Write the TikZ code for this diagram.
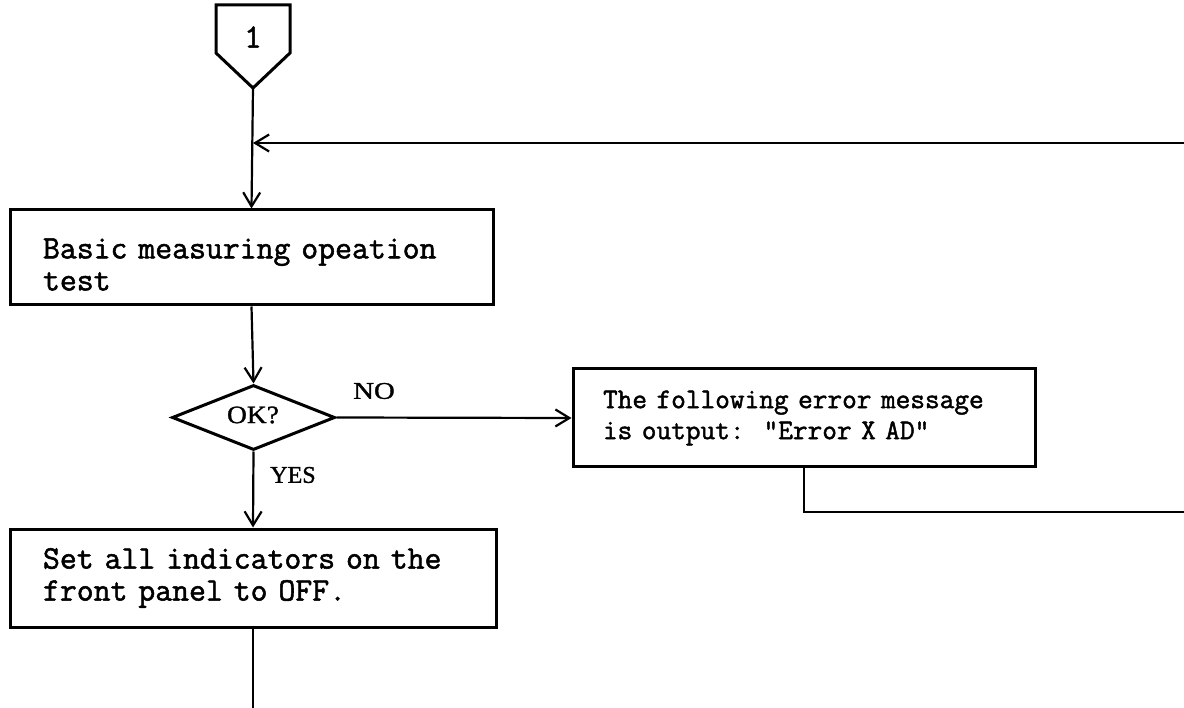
\documentclass[tikz,border=0pt]{standalone}
\usepackage{fontspec}
\newfontfamily\serifl{Liberation Serif}[FakeBold=1.2]
\newfontfamily\typew{Latin Modern Mono}[FakeBold=1.6]
\usetikzlibrary{arrows.meta,shapes.geometric}
\begin{document}
\begin{tikzpicture}[x=1pt,y=-1pt,
  box/.style={draw,line width=3pt,rectangle,inner ysep=0pt,align=left,
    font=\typew\fontsize{32.8}{32}\selectfont},
  conn/.style={line width=2.2pt},
  arr/.style={conn,-{Straight Barb[length=14pt,width=17pt,line width=2.2pt]}},
  lab/.style={font=\serifl\fontsize{24}{24}\selectfont,inner sep=0pt}]
\useasboundingbox (0,0) rectangle (1184,708);
% off-page connector
\draw[line width=3pt,line join=miter] (216,5) -- (290,5) -- (290,53) -- (253,88) -- (216,53) -- cycle;
\node[font=\typew\fontsize{34}{34}\selectfont,inner sep=0pt] (c1) at (253,37) {1};
\coordinate (tip) at (253,88);
% boxes
\node[box,text width=417pt,inner xsep=33pt,minimum height=95pt] (b1) at (251.5,257.5)
  {\rule{0pt}{34pt}Basic measuring opeation\\test};
\node[draw,diamond,line width=3pt,aspect=2.5,minimum width=163pt,minimum height=65pt,inner sep=0pt] (d) at (253.5,417.5) {};
\node[lab,font=\serifl\fontsize{25}{25}\selectfont] (ok) at (253,415) {\scalebox{1.1}[1]{OK?}};
\node[box,text width=402pt,inner xsep=30pt,minimum height=98pt,
  font=\typew\fontsize{28.5}{31}\selectfont] (b2) at (804,418)
  {The following error message\\is output:\ \ "Error X AD"};
\node[box,text width=420pt,inner xsep=33pt,minimum height=98pt] (b3) at (253,578)
  {Set all indicators on the\\front panel to OFF.};
% coordinates
\coordinate (rin) at (1184,143);
\coordinate (j) at (253,143);
\coordinate (b2d) at (805,512);
\coordinate (rout) at (1184,512);
\coordinate (bot) at (253,708);
% connectors
\draw[arr] (tip) -- (b1.north);
\draw[arr] (rin) -- (j);
\draw[arr] (b1.south) -- (d.north);
\draw[arr] (d.east) -- (b2.west);
\draw[arr] (d.south) -- (b3.north);
\draw[conn] (b2.south) -- (b2.south |- b2d) -- (rout);
\draw[conn] (b3.south) -- (bot);
% labels
\node[lab] (no) at (374,391) {\scalebox{1.2}[1]{NO}};
\node[lab] (yes) at (293,475) {YES};
\end{tikzpicture}
\end{document}
